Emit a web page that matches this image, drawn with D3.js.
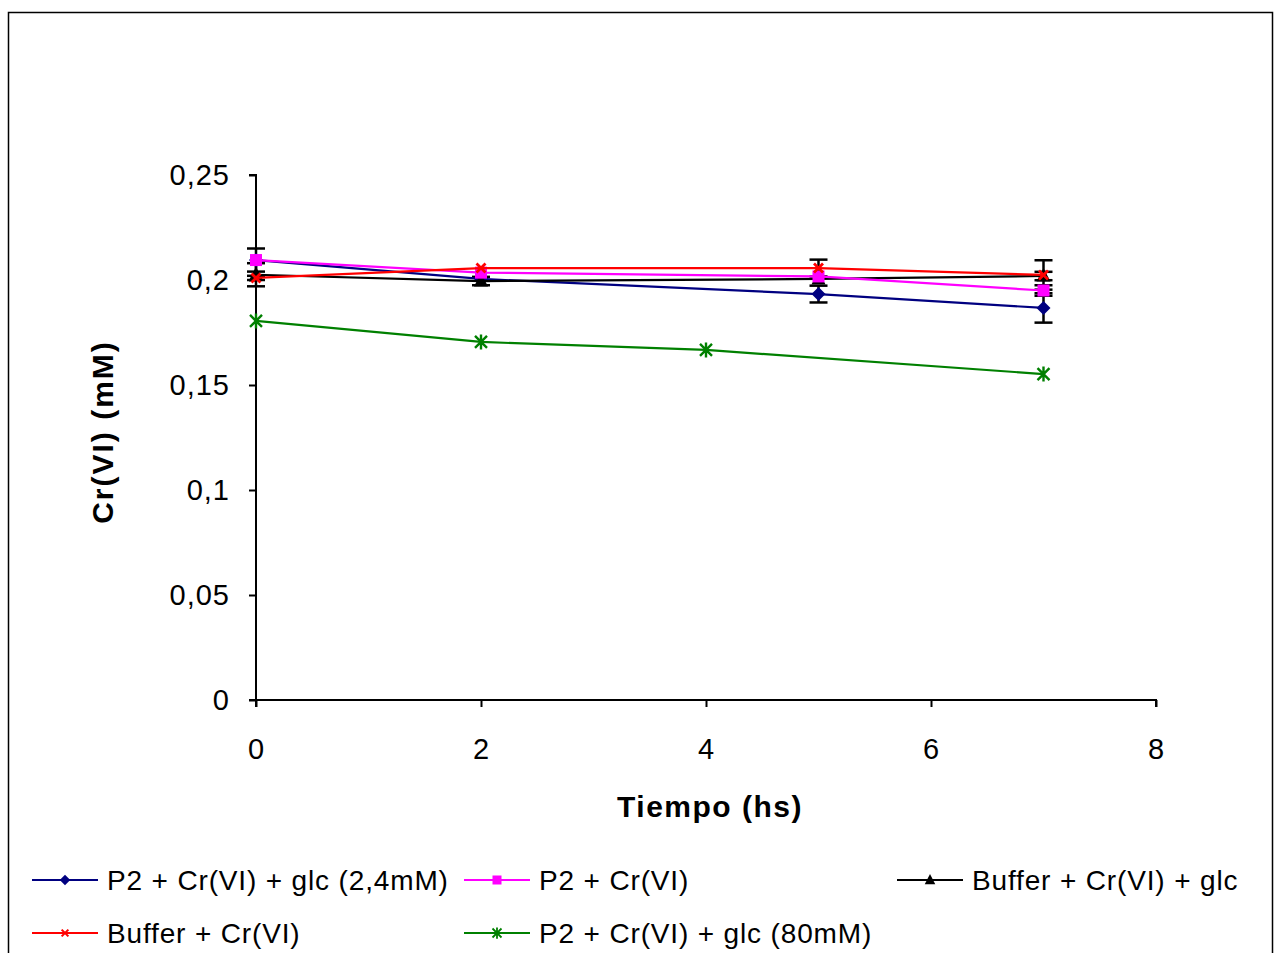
<!DOCTYPE html>
<html>
<head>
<meta charset="utf-8">
<script src="https://cdn.jsdelivr.net/npm/d3@7"></script>
<style>
  body { margin: 0; background: #fff; }
  svg { font-family: "Liberation Sans", Arial, sans-serif; }
</style>
</head>
<body>
<div class="chart"></div>
<script>
// data
const seriesNames = ["P2 + Cr(VI) + glc (2,4mM)", "P2 + Cr(VI)", "Buffer + Cr(VI) + glc", "Buffer + Cr(VI)", "P2 + Cr(VI) + glc (80mM)"]
const seriesColors = ["#000080", "#ff00ff", "#000000", "#ff0000", "#008000"]
const seriesMarkers = ["diamond", "square", "triangle", "cross", "star"]

const timeA = [0, 2, 5, 7]
const timeGreen = [0, 2, 4, 7]

const blueVals = [0.2095, 0.2005, 0.1933, 0.1867]
const blueErr = [0.0055, 0, 0.004, 0.007]
const magentaVals = [0.2095, 0.2035, 0.2017, 0.1950]
const magentaErr = [0, 0, 0, 0.0025]
const blackVals = [0.2025, 0.1995, 0.2005, 0.2019]
const blackErr = [0.0055, 0.002, 0, 0.002]
const redVals = [0.2010, 0.2057, 0.2057, 0.2024]
const redErr = [0.001, 0, 0.004, 0.007]
const greenVals = [0.1805, 0.1705, 0.1667, 0.1552]
const greenErr = [0, 0, 0, 0]

const xTicks = [0, 2, 4, 6, 8]
const yTicks = [0, 0.05, 0.1, 0.15, 0.2, 0.25]

const series = [
    {x: timeA, y: blueVals, e: blueErr},
    {x: timeA, y: magentaVals, e: magentaErr},
    {x: timeA, y: blackVals, e: blackErr},
    {x: timeA, y: redVals, e: redErr},
    {x: timeGreen, y: greenVals, e: greenErr}
]

const svgWidth = 1276
const svgHeight = 953

const svg = d3.select(".chart").append("svg")
    .attr("width", svgWidth)
    .attr("height", svgHeight)

// outer frame
svg.append("rect")
    .attr("x", 8.5).attr("y", 12.5)
    .attr("width", 1264).attr("height", 960)
    .attr("fill", "none").attr("stroke", "#000").attr("stroke-width", 1.5)

const xScale = d3.scaleLinear().domain([0, 8]).range([256, 1156])
const yScale = d3.scaleLinear().domain([0, 0.25]).range([700, 175])

const fmt = d => String(d).replace(".", ",")

const xAxis = d3.axisBottom(xScale).tickValues(xTicks).tickSize(7).tickPadding(31).tickFormat(fmt)
const yAxis = d3.axisLeft(yScale).tickValues(yTicks).tickSize(7).tickPadding(19).tickFormat(fmt)

const gx = svg.append("g").attr("transform", "translate(0,700)").call(xAxis)
const gy = svg.append("g").attr("transform", "translate(256,0)").call(yAxis)

;[gx, gy].forEach(g => {
    g.select(".domain").attr("stroke", "#000").attr("stroke-width", 2)
    g.selectAll(".tick line").attr("stroke", "#000").attr("stroke-width", 2)
    g.selectAll(".tick text")
        .attr("font-family", "Liberation Sans, Arial, sans-serif")
        .attr("font-size", "29px")
        .attr("letter-spacing", "1px")
        .attr("fill", "#000")
})
gx.select(".domain").attr("d", "M256,7V0H1156V7")
gy.select(".domain").attr("d", "M-7,700H0V175H-7")

// axis titles
svg.append("text")
    .attr("x", 710).attr("y", 817)
    .attr("text-anchor", "middle")
    .attr("font-size", "30px").attr("font-weight", "bold")
    .attr("letter-spacing", "1.5px")
    .text("Tiempo (hs)")

svg.append("text")
    .attr("transform", "translate(113,432) rotate(-90)")
    .attr("text-anchor", "middle")
    .attr("font-size", "30px").attr("font-weight", "bold")
    .attr("letter-spacing", "2px")
    .text("Cr(VI) (mM)")

function drawMarker(g, type, color) {
    if (type === "diamond") {
        g.append("path").attr("d", "M0,-7L7,0L0,7L-7,0Z").attr("fill", color)
    } else if (type === "square") {
        g.append("rect").attr("x", -6).attr("y", -6).attr("width", 12).attr("height", 12).attr("fill", color)
    } else if (type === "triangle") {
        g.append("path").attr("d", "M0,-8L7,5.5L-7,5.5Z").attr("fill", color)
    } else if (type === "cross") {
        g.append("path").attr("d", "M-4.5,-4.5L4.5,4.5M4.5,-4.5L-4.5,4.5").attr("stroke", color).attr("stroke-width", 2.8)
    } else if (type === "star") {
        g.append("path").attr("d", "M-6,-6L6,6M6,-6L-6,6M0,-7.5V7.5")
            .attr("stroke", color).attr("stroke-width", 2.4)
    }
}

const line = d3.line().x(d => xScale(d[0])).y(d => yScale(d[1]))

// error bars (black)
series.forEach(s => {
    s.x.forEach((t, i) => {
        const e = s.e[i]
        if (!e) return
        const cx = xScale(t)
        const y1 = yScale(s.y[i] + e)
        const y2 = yScale(s.y[i] - e)
        const g = svg.append("g").attr("stroke", "#000").attr("stroke-width", 2.5)
        g.append("line").attr("x1", cx).attr("x2", cx).attr("y1", y1).attr("y2", y2)
        g.append("line").attr("x1", cx - 9).attr("x2", cx + 9).attr("y1", y1).attr("y2", y1)
        g.append("line").attr("x1", cx - 9).attr("x2", cx + 9).attr("y1", y2).attr("y2", y2)
    })
})

// lines and markers, drawn back to front
const order = [4, 0, 2, 1, 3]
order.forEach(k => {
    const s = series[k]
    const pts = s.x.map((t, i) => [t, s.y[i]])
    svg.append("path")
        .attr("d", line(pts))
        .attr("fill", "none")
        .attr("stroke", seriesColors[k])
        .attr("stroke-width", 2.2)
    pts.forEach(p => {
        const g = svg.append("g").attr("transform", `translate(${xScale(p[0])},${yScale(p[1])})`)
        drawMarker(g, seriesMarkers[k], seriesColors[k])
    })
})

// legend
const legendPos = [[32, 880], [464, 880], [897, 880], [32, 933], [464, 933]]
seriesNames.forEach((name, k) => {
    const [lx, ly] = legendPos[k]
    const g = svg.append("g").attr("transform", `translate(${lx},${ly})`)
    g.append("line").attr("x1", 0).attr("x2", 66).attr("y1", 0).attr("y2", 0)
        .attr("stroke", seriesColors[k]).attr("stroke-width", 2)
    const m = g.append("g").attr("transform", "translate(33,0) scale(0.75)")
    drawMarker(m, seriesMarkers[k], seriesColors[k])
    g.append("text")
        .attr("x", 75).attr("y", 10)
        .attr("font-size", "28px")
        .attr("letter-spacing", "0.85px")
        .attr("fill", "#000")
        .text(name)
})
</script>
</body>
</html>
